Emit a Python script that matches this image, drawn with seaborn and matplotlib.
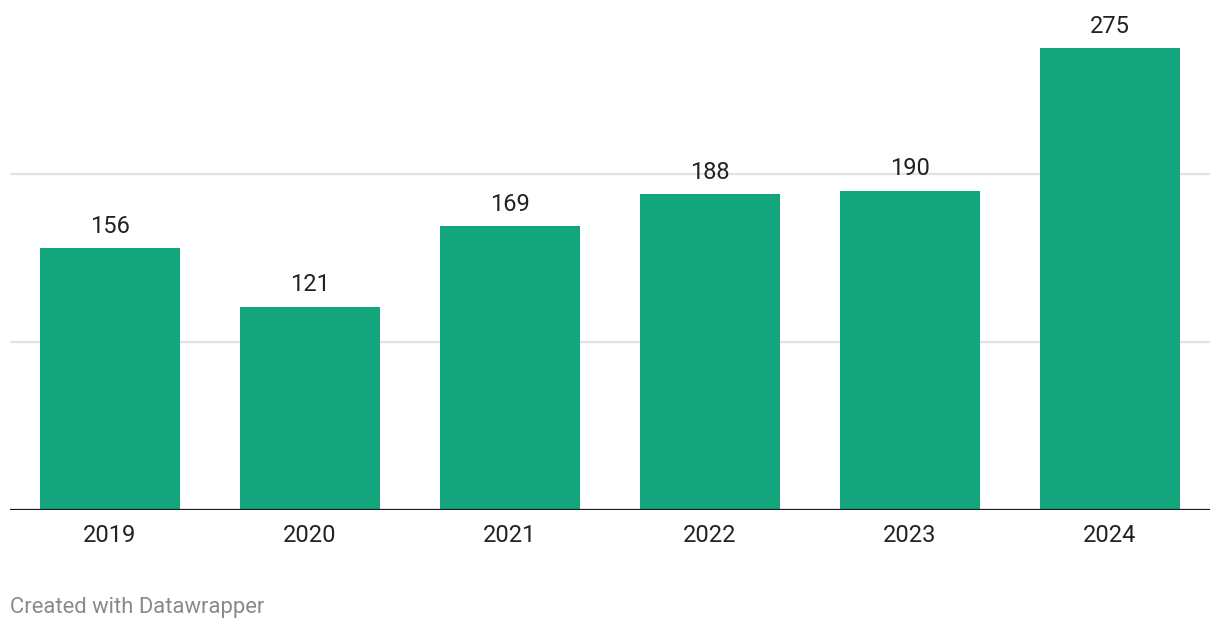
import matplotlib
matplotlib.use("Agg")
import matplotlib.pyplot as plt
import seaborn as sns
import pandas as pd

years = ["2019", "2020", "2021", "2022", "2023", "2024"]
values = [156, 121, 169, 188, 190, 275]
gridlines = [100, 200]

sns.set_theme(style="white")
plt.rcParams["font.family"] = ["Roboto", "DejaVu Sans"]

df = pd.DataFrame({"year": years, "value": values})

fig = plt.figure(figsize=(12.2, 6.3), dpi=100)
W, H = 1220, 630
ax = fig.add_axes([10 / W, 120 / H, 1200 / W, 500 / H])

sns.barplot(data=df, x="year", y="value", color="#13a57b", saturation=1,
            width=0.7, ax=ax, zorder=3, linewidth=0, edgecolor="none")

ax.set_xlim(-0.5, len(years) - 0.5)
ax.set_ylim(0, 500 / 1.68)
for g in gridlines:
    ax.axhline(g, color="#e3e3e3", lw=1.6, zorder=1)
ax.axhline(0, color="#1a1a1a", lw=1.6, zorder=4)

for s in ax.spines.values():
    s.set_visible(False)
ax.set_yticks([])
ax.set_xlabel("")
ax.set_ylabel("")
ax.tick_params(axis="x", length=0, pad=10, labelsize=17, labelcolor="#222222")

for i, v in enumerate(values):
    ax.annotate(str(v), (i, v), xytext=(0, 7.5), textcoords="offset points",
                ha="center", va="bottom", fontsize=17, color="#222222")

fig.text(10 / W, 1 - 607 / H, "Created with Datawrapper", ha="left", va="center",
         fontsize=15.8, color="#8a8a8a")

fig.savefig("out.png", dpi=100, facecolor="white")
